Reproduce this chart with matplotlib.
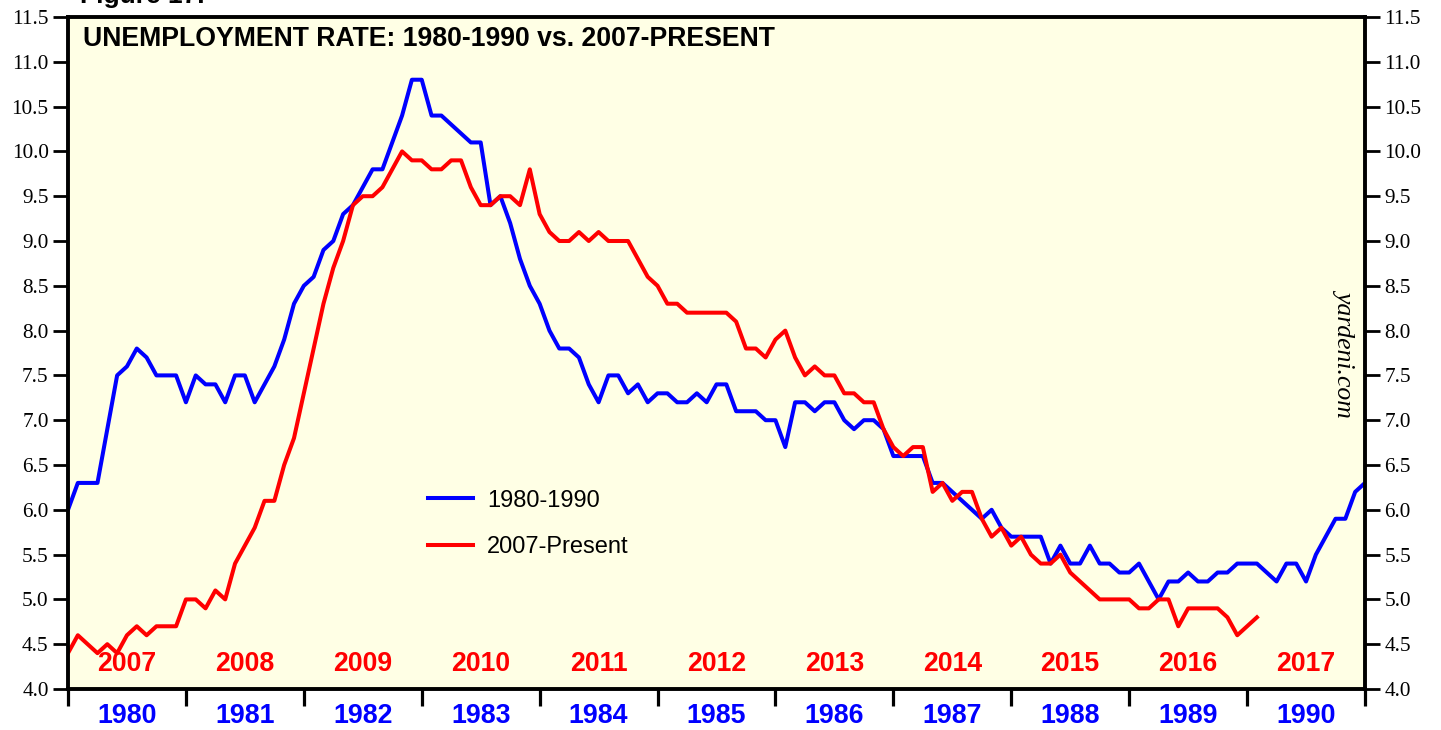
import matplotlib
matplotlib.use("Agg")
import matplotlib.pyplot as plt
import numpy as np

# unemployment rate, monthly, starting with the December before the first year
rate_1980s = [6.0,
              6.3, 6.3, 6.3, 6.9, 7.5, 7.6, 7.8, 7.7, 7.5, 7.5, 7.5, 7.2,
              7.5, 7.4, 7.4, 7.2, 7.5, 7.5, 7.2, 7.4, 7.6, 7.9, 8.3, 8.5,
              8.6, 8.9, 9.0, 9.3, 9.4, 9.6, 9.8, 9.8, 10.1, 10.4, 10.8, 10.8,
              10.4, 10.4, 10.3, 10.2, 10.1, 10.1, 9.4, 9.5, 9.2, 8.8, 8.5, 8.3,
              8.0, 7.8, 7.8, 7.7, 7.4, 7.2, 7.5, 7.5, 7.3, 7.4, 7.2, 7.3,
              7.3, 7.2, 7.2, 7.3, 7.2, 7.4, 7.4, 7.1, 7.1, 7.1, 7.0, 7.0,
              6.7, 7.2, 7.2, 7.1, 7.2, 7.2, 7.0, 6.9, 7.0, 7.0, 6.9, 6.6,
              6.6, 6.6, 6.6, 6.3, 6.3, 6.2, 6.1, 6.0, 5.9, 6.0, 5.8, 5.7,
              5.7, 5.7, 5.7, 5.4, 5.6, 5.4, 5.4, 5.6, 5.4, 5.4, 5.3, 5.3,
              5.4, 5.2, 5.0, 5.2, 5.2, 5.3, 5.2, 5.2, 5.3, 5.3, 5.4, 5.4,
              5.4, 5.3, 5.2, 5.4, 5.4, 5.2, 5.5, 5.7, 5.9, 5.9, 6.2, 6.3]

rate_2007on = [4.4,
               4.6, 4.5, 4.4, 4.5, 4.4, 4.6, 4.7, 4.6, 4.7, 4.7, 4.7, 5.0,
               5.0, 4.9, 5.1, 5.0, 5.4, 5.6, 5.8, 6.1, 6.1, 6.5, 6.8, 7.3,
               7.8, 8.3, 8.7, 9.0, 9.4, 9.5, 9.5, 9.6, 9.8, 10.0, 9.9, 9.9,
               9.8, 9.8, 9.9, 9.9, 9.6, 9.4, 9.4, 9.5, 9.5, 9.4, 9.8, 9.3,
               9.1, 9.0, 9.0, 9.1, 9.0, 9.1, 9.0, 9.0, 9.0, 8.8, 8.6, 8.5,
               8.3, 8.3, 8.2, 8.2, 8.2, 8.2, 8.2, 8.1, 7.8, 7.8, 7.7, 7.9,
               8.0, 7.7, 7.5, 7.6, 7.5, 7.5, 7.3, 7.3, 7.2, 7.2, 6.9, 6.7,
               6.6, 6.7, 6.7, 6.2, 6.3, 6.1, 6.2, 6.2, 5.9, 5.7, 5.8, 5.6,
               5.7, 5.5, 5.4, 5.4, 5.5, 5.3, 5.2, 5.1, 5.0, 5.0, 5.0, 5.0,
               4.9, 4.9, 5.0, 5.0, 4.7, 4.9, 4.9, 4.9, 4.9, 4.8, 4.6, 4.7,
               4.8]

years_blue = ['1980', '1981', '1982', '1983', '1984', '1985', '1986', '1987', '1988', '1989', '1990']
years_red = ['2007', '2008', '2009', '2010', '2011', '2012', '2013', '2014', '2015', '2016', '2017']
yticks = np.arange(4.0, 11.51, 0.5)

bg = '#FFFFE5'

fig = plt.figure(figsize=(14.41, 7.30), dpi=100)
ax = fig.add_axes([68/1441, 1-689/730, (1365-68)/1441, (689-17)/730])
ax.set_facecolor(bg)

ax.plot(range(len(rate_1980s)), rate_1980s, color='#0000FF', lw=2.9, label='1980-1990')
ax.plot(range(len(rate_2007on)), rate_2007on, color='#FF0000', lw=2.9, label='2007-Present')

ax.set_xlim(0, 132)
ax.set_ylim(4.0, 11.5)

# y axis on both sides, serif numbers
ax.set_yticks(yticks)
ax.set_yticklabels(['%.1f' % v for v in yticks], family='Liberation Serif', fontsize=15.3)
ax.tick_params(axis='y', which='major', direction='out', length=10.5, width=2,
               left=True, right=True, labelleft=True, labelright=True, pad=3.5)

# year boundaries as long ticks, year names in between
ax.set_xticks(np.arange(0, 133, 12))
ax.set_xticklabels([])
ax.set_xticks(np.arange(6, 132, 12), minor=True)
ax.set_xticklabels(years_blue, minor=True, color='#0000FF', fontweight='bold',
                   family='Liberation Sans', fontsize=19.3)
ax.tick_params(axis='x', which='major', direction='out', length=12.5, width=2.3)
ax.tick_params(axis='x', which='minor', length=0, pad=10)

for i, yr in enumerate(years_red):
    ax.text(6 + 12*i, 4.28, yr, color='#FF0000', fontweight='bold', family='Liberation Sans',
            fontsize=19.2, ha='center', va='center')

for s in ax.spines.values():
    s.set_linewidth(2.8)

ax.text(0.0116, 0.9568, 'UNEMPLOYMENT RATE: 1980-1990 vs. 2007-PRESENT', transform=ax.transAxes,
        fontweight='bold', family='Liberation Sans', fontsize=19.2, ha='left', va='baseline')

ax.text(0.985, 0.5015, 'yardeni.com', transform=ax.transAxes, rotation=-90, style='italic',
        family='Liberation Serif', fontsize=18.5, ha='center', va='center')

leg = ax.legend(loc='center left', bbox_to_anchor=(0.261, 0.2456), frameon=False,
                prop={'family': 'Liberation Sans', 'size': 17}, handlelength=1.9,
                handletextpad=0.6, labelspacing=1.05)

fig.text(80/1441, 1-3/730, 'Figure 17.', fontweight='bold', family='Liberation Sans',
         fontsize=19, ha='left', va='baseline')

fig.savefig('out.png', dpi=100, facecolor='white')
